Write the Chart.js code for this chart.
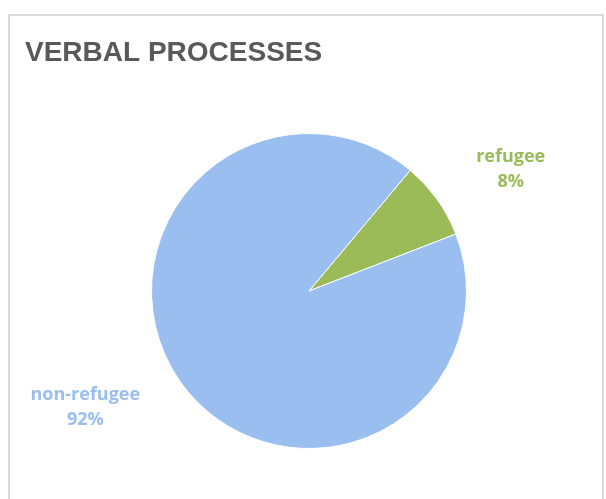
<!DOCTYPE html>
<html>
<head>
<meta charset="utf-8">
<script src="https://cdn.jsdelivr.net/npm/chart.js@4/dist/chart.umd.min.js"></script>
<style>
  html, body { margin: 0; padding: 0; background: #fff; }
  #wrap { position: relative; width: 606px; height: 499px; overflow: hidden; }
  #frame { position: absolute; left: 8px; top: 14px; width: 596px; height: 520px; border: 2px solid #d9d9d9; box-sizing: border-box; }
  canvas { position: absolute; left: 0; top: 0; }
</style>
</head>
<body>
<div id="wrap">
  <div id="frame"></div>
  <canvas id="pie-verbal" width="606" height="499"></canvas>
</div>
<script>
// datos del grafico
const titulo = 'VERBAL PROCESSES';
const categorias = ['refugee', 'non-refugee'];
const valores = [8, 92];
const colores = ['#9BBB59', '#9BBEF0'];

// etiquetas fuera del pastel (nombre + porcentaje)
const etiquetasPlugin = {
  id: 'etiquetas',
  afterDatasetsDraw(chart, args, opts) {
    const ctx = chart.ctx;
    const meta = chart.getDatasetMeta(0);
    const total = valores.reduce((a, b) => a + b, 0);
    meta.data.forEach((arc, i) => {
      const p = arc.getProps(['x', 'y', 'startAngle', 'endAngle', 'outerRadius'], true);
      const mid = (p.startAngle + p.endAngle) / 2;
      const d = p.outerRadius * opts.factor;
      const nudge = opts.nudge[i] || [0, 0];
      const x = p.x + Math.cos(mid) * d + nudge[0];
      const y = p.y + Math.sin(mid) * d + nudge[1];
      ctx.save();
      ctx.fillStyle = colores[i];
      ctx.font = 'bold 18px "Open Sans"';
      ctx.textAlign = 'center';
      ctx.textBaseline = 'alphabetic';
      ctx.fillText(categorias[i], x, y - 6);
      ctx.fillText(Math.round(valores[i] / total * 100) + '%', x, y + 19);
      ctx.restore();
    });
  }
};

// titulo arriba a la izquierda
const tituloPlugin = {
  id: 'tituloIzq',
  afterDraw(chart) {
    const ctx = chart.ctx;
    ctx.save();
    ctx.fillStyle = '#595959';
    ctx.font = 'bold 28px "Liberation Sans"';
    ctx.textAlign = 'left';
    ctx.textBaseline = 'alphabetic';
    ctx.fillText(titulo, 25, 61);
    ctx.restore();
  }
};

const chart = new Chart(document.getElementById('pie-verbal'), {
  type: 'pie',
  data: {
    labels: categorias,
    datasets: [{
      data: valores,
      backgroundColor: colores,
      borderColor: '#ffffff',
      borderWidth: 1
    }]
  },
  options: {
    responsive: false,
    animation: false,
    rotation: 40,
    layout: { padding: { left: 151, right: 139, top: 133, bottom: 50 } },
    plugins: {
      legend: { display: false },
      tooltip: { enabled: false },
      etiquetas: { factor: 1.45, nudge: [[16, 10], [-38, -18]] }
    }
  },
  plugins: [etiquetasPlugin, tituloPlugin]
});
</script>
</body>
</html>
